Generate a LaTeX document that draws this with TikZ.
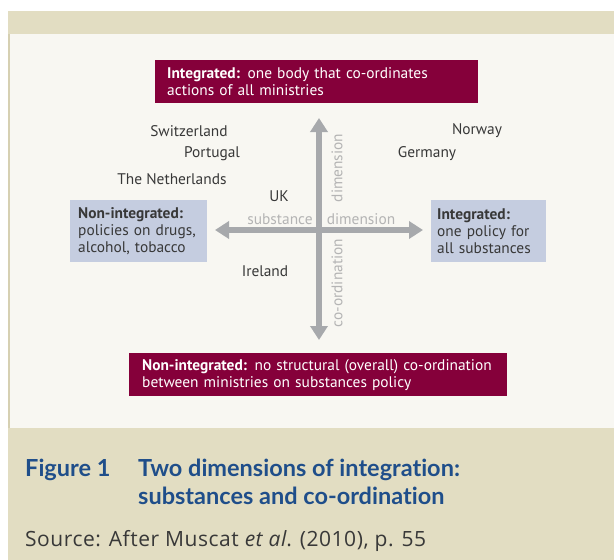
\documentclass[tikz,border=0pt]{standalone}
\usepackage{fontspec}
\setmainfont{PT Sans}
\newfontfamily\capfont[Ligatures={NoCommon,NoRare}]{Lato}
\newfontfamily\srcfont[LetterSpace=2.5]{Open Sans}
\usepackage{tikz}
\usetikzlibrary{positioning,arrows.meta}
\definecolor{band}{HTML}{E2DDC2}
\definecolor{edge}{HTML}{D6D0B2}
\definecolor{paper}{HTML}{F8F7F2}
\definecolor{wine}{HTML}{85003A}
\definecolor{lav}{HTML}{C5CDE0}
\definecolor{axgrey}{HTML}{A7A9AC}
\definecolor{lbgrey}{HTML}{B4B4B4}
\definecolor{ink}{HTML}{383838}
\definecolor{capblue}{HTML}{1F4E8A}
\tikzstyle{rb} = [fill=wine,text=white,align=left,anchor=north west,
                  inner xsep=12pt,inner ysep=0pt,minimum height=43pt]
\tikzstyle{bb} = [fill=lav,text=ink,align=left,anchor=north west,
                  inner xsep=8pt,inner ysep=0pt,minimum height=62pt]
\tikzstyle{cn} = [text=ink,inner sep=0]
\tikzstyle{al} = [text=lbgrey,inner sep=0]
\tikzstyle{ax} = [draw=axgrey,line width=6pt,
                  {Triangle[width=17pt,length=14pt]}-{Triangle[width=17pt,length=14pt]}]

\begin{document}
\begin{tikzpicture}[
      x=1pt,y=-1pt,
      font=\fontsize{15.4}{16.8}\selectfont]

  \useasboundingbox (0,0) rectangle (614,560);
  \fill[white] (0,0) rectangle (614,560);
  \fill[band] (8,11) rectangle (614,560);
  \fill[edge] (8,34) rectangle (9.5,428);
  \fill[paper] (9.5,34) rectangle (614,428);

  % the two ends of each dimension
  \node[rb,text width=299pt] (intco) at (155,60)
       {\textbf{Integrated:} one body that co-ordinates\\actions of all ministries};
  \node[rb,text width=352pt,inner xsep=13pt] (nonco) at (129,353)
       {\textbf{Non-integrated:} no structural (overall) co-ordination\\between ministries on substances policy};
  \node[bb,text width=121pt] (nonsub) at (70,200)
       {\textbf{Non-integrated:}\\policies on drugs,\\alcohol, tobacco};
  \node[bb,text width=103pt,inner xsep=6pt] (intsub) at (431,200)
       {\textbf{Integrated:}\\one policy for\\all substances};

  % axes
  \coordinate (up)    at (319,118);
  \coordinate (down)  at (319,340);
  \coordinate (left)  at (215,230);
  \coordinate (right) at (423,230);
  \draw[ax] (down) -- (up);
  \draw[ax] (left) -- (right);

  \node[al,rotate=90] (dimv) at (337,168) {dimension};
  \node[al,rotate=90] (cood) at (337,283) {co-ordination};
  \node[al] (subst) at (280,219) {substance};
  \node[al] (dimh)  at (361,219) {dimension};

  % countries
  \node[cn] (ch) at (189,131) {Switzerland};
  \node[cn] (pt) at (212,154) {Portugal};
  \node[cn] (nl) at (172,179) {The Netherlands};
  \node[cn] (uk) at (279,196) {UK};
  \node[cn] (ie) at (265,271) {Ireland};
  \node[cn] (no) at (477,131) {Norway};
  \node[cn] (de) at (427,154) {Germany};

  % caption
  \node[anchor=base west,inner sep=0,text=capblue,
        font=\capfont\bfseries\fontsize{23.5}{27.5}\selectfont] (fig) at (25,476.7) {Figure 1};
  \node[anchor=north west,inner sep=0,text=capblue,align=left,
        font=\capfont\bfseries\fontsize{23.5}{27.5}\selectfont] (title) at (138,459)
       {Two dimensions of integration:\\substances and co-ordination};
  \node[anchor=base west,inner sep=0,text=ink,
        font=\srcfont\fontsize{21}{24}\selectfont] (src) at (25,546)
       {Source: After Muscat \textit{et al}. (2010), p. 55};

\end{tikzpicture}
\end{document}
